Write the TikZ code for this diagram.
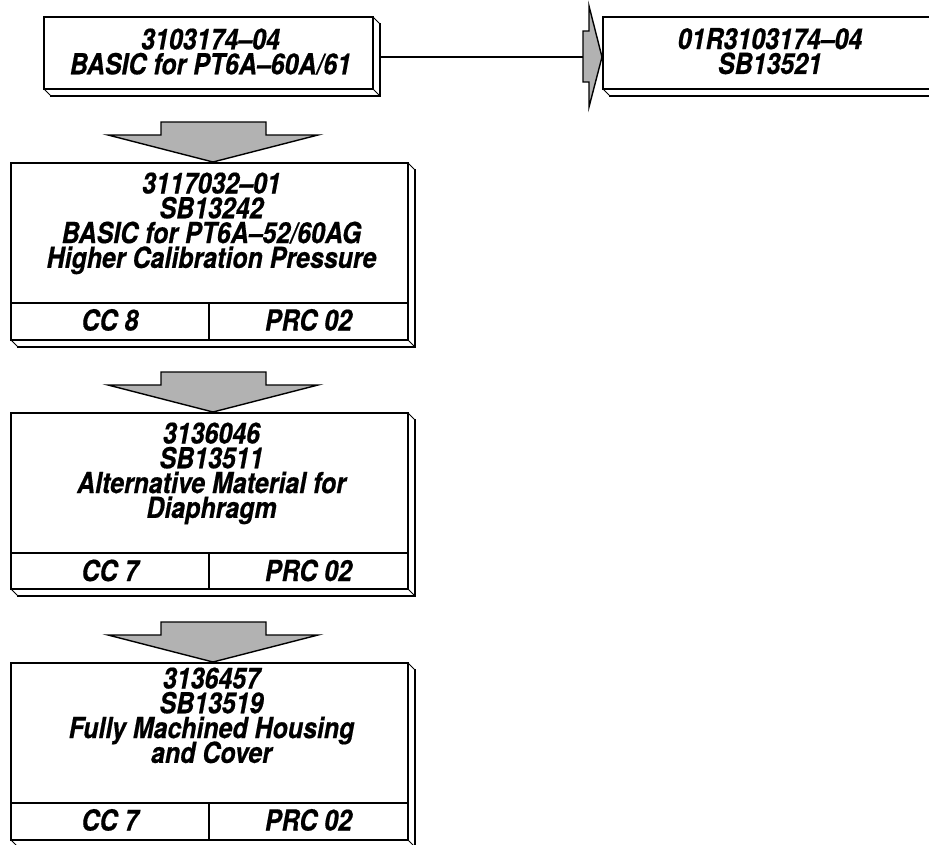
\documentclass[tikz,border=0pt]{standalone}
\usepackage{fontspec}
\newfontfamily\hvc{TeX Gyre Heros}[FakeStretch=0.86, Ligatures=TeX, BoldItalicFeatures={FakeBold=0.5}]
\usetikzlibrary{calc,backgrounds}
\definecolor{arrowgray}{gray}{0.70}
\tikzset{
  frame/.style={draw=black, line width=1.3pt, fill=white, rectangle, inner sep=0pt, outer sep=0pt, anchor=north west},
  txt/.style={font={\hvc\bfseries\itshape\fontsize{29}{24.8}\selectfont\lineskiplimit=-100pt}, align=center, inner sep=0pt, outer sep=0pt, text=black},
  fatarrow/.style={fill=arrowgray, draw=black, line width=1.4pt, line join=miter},
  conn/.style={draw=black, line width=1.3pt},
  divider/.style={draw=black, line width=1.1pt},
  shadowthin/.style={draw=black, line width=0.9pt, fill=white},
  shadowthick/.style={draw=black, line width=2.8pt, line cap=butt, line join=miter},
}
\newcommand\boxshadow[1]{%
  \begin{pgfonlayer}{background}
  \filldraw[shadowthin] (#1.south west) -- ++(7,7) -- ($(#1.south east)+(7,7)$) -- ($(#1.north east)+(7,7)$) -- (#1.north east) -- cycle;
  \draw[shadowthin] (#1.south east) -- ++(7,7);
  \draw[shadowthick] ($(#1.south west)+(6,7)$) -- ($(#1.south east)+(7,7)$) -- ($(#1.north east)+(7,6)$);
  \end{pgfonlayer}}
\newcommand\fatdown[1]{%
  \filldraw[fatarrow] (#1) -- ++(-105,-27) -- ++(53,0) -- ++(0,-13) -- ++(105,0) -- ++(0,13) -- ++(52,0) -- cycle;}
\begin{document}
\begin{tikzpicture}[x=1pt,y=-1pt]
\useasboundingbox (0,0) rectangle (929,844);
\clip (0,0) rectangle (929,844);

% top left box
\node[frame, minimum width=329pt, minimum height=72pt] (A) at (44,17) {};
\boxshadow{A}
\node[txt, anchor=north] (At) at (210.5,28.5) {3103174--04\\BASIC for PT6A--60A/61};

% top right box
\node[frame, minimum width=334pt, minimum height=72pt] (B) at (603,17) {};
\boxshadow{B}
\node[txt, anchor=north] (Bt) at (770,28) {01R3103174--04\\SB13521};

% connector A -> B
\coordinate (hTip) at ($(B.west)+(-1,4)$);
\coordinate (hTail) at ($(hTip)+(-19,0)$);
\draw[conn] ($(A.east)+(7,4)$) -- (hTail);
\filldraw[fatarrow] (hTip) -- ++(-13,-51) -- ++(0,25) -- ++(-6,0) -- ++(0,51) -- ++(6,0) -- ++(0,25) -- cycle;

% box C
\node[frame, minimum width=397pt, minimum height=177pt] (C) at (11,163) {};
\boxshadow{C}
\draw[divider] ($(C.north west)+(0,140)$) -- ($(C.north east)+(0,140)$);
\draw[divider] ($(C.south)+(-0.5,-37)$) -- ($(C.south)+(-0.5,0)$);
\node[txt, anchor=north] (Ct) at (211.5,172.5) {3117032--01\\SB13242\\BASIC for PT6A--52/60AG\\Higher Calibration Pressure};
\node[txt, anchor=base] (Ccc) at (110,330.5) {CC 8};
\node[txt, anchor=base] (Cprc) at (308.5,330.5) {PRC 02};
\fatdown{$(C.north)+(3.5,-1)$}

% box D
\node[frame, minimum width=397pt, minimum height=176pt] (D) at (11,413) {};
\boxshadow{D}
\draw[divider] ($(D.north west)+(0,140)$) -- ($(D.north east)+(0,140)$);
\draw[divider] ($(D.south)+(-0.5,-36)$) -- ($(D.south)+(-0.5,0)$);
\node[txt, anchor=north] (Dt) at (211.5,422.5) {3136046\\SB13511\\Alternative Material for\\Diaphragm};
\node[txt, anchor=base] (Dcc) at (110,581) {CC 7};
\node[txt, anchor=base] (Dprc) at (308.5,581) {PRC 02};
\fatdown{$(D.north)+(3.5,-1)$}

% box E
\node[frame, minimum width=397pt, minimum height=177pt] (E) at (11,663) {};
\boxshadow{E}
\draw[divider] ($(E.north west)+(0,140)$) -- ($(E.north east)+(0,140)$);
\draw[divider] ($(E.south)+(-0.5,-37)$) -- ($(E.south)+(-0.5,0)$);
\node[txt, anchor=north] (Et) at (211.5,667.5) {3136457\\SB13519\\Fully Machined Housing\\and Cover};
\node[txt, anchor=base] (Ecc) at (110,830.5) {CC 7};
\node[txt, anchor=base] (Eprc) at (308.5,830.5) {PRC 02};
\fatdown{$(E.north)+(3.5,-1)$}
\end{tikzpicture}
\end{document}
